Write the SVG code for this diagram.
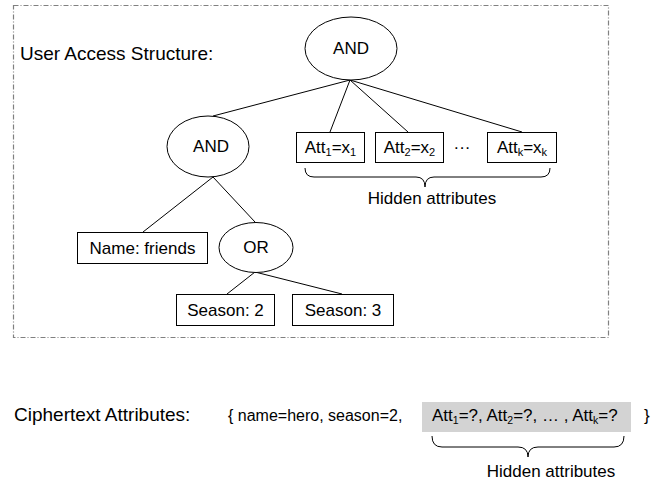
<svg xmlns="http://www.w3.org/2000/svg" width="671" height="483" viewBox="0 0 671 483">
<style>
text{font-family:"Liberation Sans",Arial,sans-serif;fill:#000}
.n{font-size:17px;text-anchor:middle}
.lbl{font-size:19px}
.box{fill:#fff;stroke:#000;stroke-width:1}
.ell{fill:#fff;stroke:#000;stroke-width:1}
.ln{stroke:#000;stroke-width:1;fill:none}
.br{stroke:#000;stroke-width:1;fill:none}
.sub{font-size:11px}
.bt{font-size:17px}
.bs{font-size:10.5px}
</style>
<rect x="13.5" y="5.5" width="595" height="332" fill="none" stroke="#808080" stroke-width="1.2" stroke-dasharray="5,2,1,2"/>
<text class="lbl" x="20" y="60">User Access Structure:</text>
<g id="connectors">
<line class="ln" x1="350" y1="80" x2="213" y2="116"/>
<line class="ln" x1="350" y1="80" x2="330" y2="132"/>
<line class="ln" x1="350" y1="80" x2="408" y2="132"/>
<line class="ln" x1="350" y1="80" x2="522" y2="132"/>
<line class="ln" x1="213" y1="177" x2="143" y2="232"/>
<line class="ln" x1="213" y1="177" x2="255" y2="222"/>
<line class="ln" x1="255" y1="272" x2="227" y2="294"/>
<line class="ln" x1="255" y1="272" x2="342" y2="294"/>
</g>
<g id="and-root"><ellipse class="ell" cx="351" cy="48.5" rx="46" ry="31.5"/><text class="n" x="351" y="54">AND</text></g>
<g id="and-left"><ellipse class="ell" cx="208" cy="146.5" rx="41" ry="30.5"/><text class="n" x="211" y="152">AND</text></g>
<g id="att1"><rect class="box" x="296.5" y="132.5" width="68" height="30"/><text class="n" x="330.5" y="153">Att<tspan class="sub" dy="3">1</tspan><tspan dy="-3">=x</tspan><tspan class="sub" dy="3">1</tspan></text></g>
<g id="att2"><rect class="box" x="375.5" y="132.5" width="68" height="30"/><text class="n" x="409.5" y="153">Att<tspan class="sub" dy="3">2</tspan><tspan dy="-3">=x</tspan><tspan class="sub" dy="3">2</tspan></text></g>
<text class="n" x="462" y="153">···</text>
<g id="attk"><rect class="box" x="487.5" y="132.5" width="69" height="30"/><text class="n" x="522" y="153">Att<tspan class="sub" dy="3">k</tspan><tspan dy="-3">=x</tspan><tspan class="sub" dy="3">k</tspan></text></g>
<path class="br" d="M305,168 Q305,177 314,177 H416 Q425,177 425,187 Q425,177 434,177 H541 Q550,177 550,168"/>
<text class="n" x="432" y="204">Hidden attributes</text>
<g id="name-friends"><rect class="box" x="77.5" y="232.5" width="130" height="31"/><text class="n" x="142.5" y="254">Name: friends</text></g>
<g id="or"><ellipse class="ell" cx="256" cy="247.5" rx="37" ry="25"/><text class="n" x="256" y="253">OR</text></g>
<g id="season2"><rect class="box" x="176.5" y="294.5" width="98" height="31"/><text class="n" x="225.5" y="316">Season: 2</text></g>
<g id="season3"><rect class="box" x="292.5" y="294.5" width="101" height="31"/><text class="n" x="343" y="316">Season: 3</text></g>
<text class="lbl" x="14" y="421">Ciphertext Attributes:</text>
<text x="228" y="421" font-size="16">{ name=hero, season=2,</text>
<rect x="422" y="402" width="209" height="30" fill="#d3d3d3"/>
<text class="bt" x="432" y="421">Att<tspan class="bs" dy="3">1</tspan><tspan dy="-3">=?, Att</tspan><tspan class="bs" dy="3">2</tspan><tspan dy="-3">=?, … , Att</tspan><tspan class="bs" dy="3">k</tspan><tspan dy="-3">=?</tspan></text>
<text class="bt" x="644" y="421">}</text>
<path class="br" d="M432,436 Q432,447 442,447 H518 Q528,447 528,457 Q528,447 538,447 H614 Q624,447 624,436"/>
<text class="bt" x="551" y="477" text-anchor="middle">Hidden attributes</text>
</svg>
